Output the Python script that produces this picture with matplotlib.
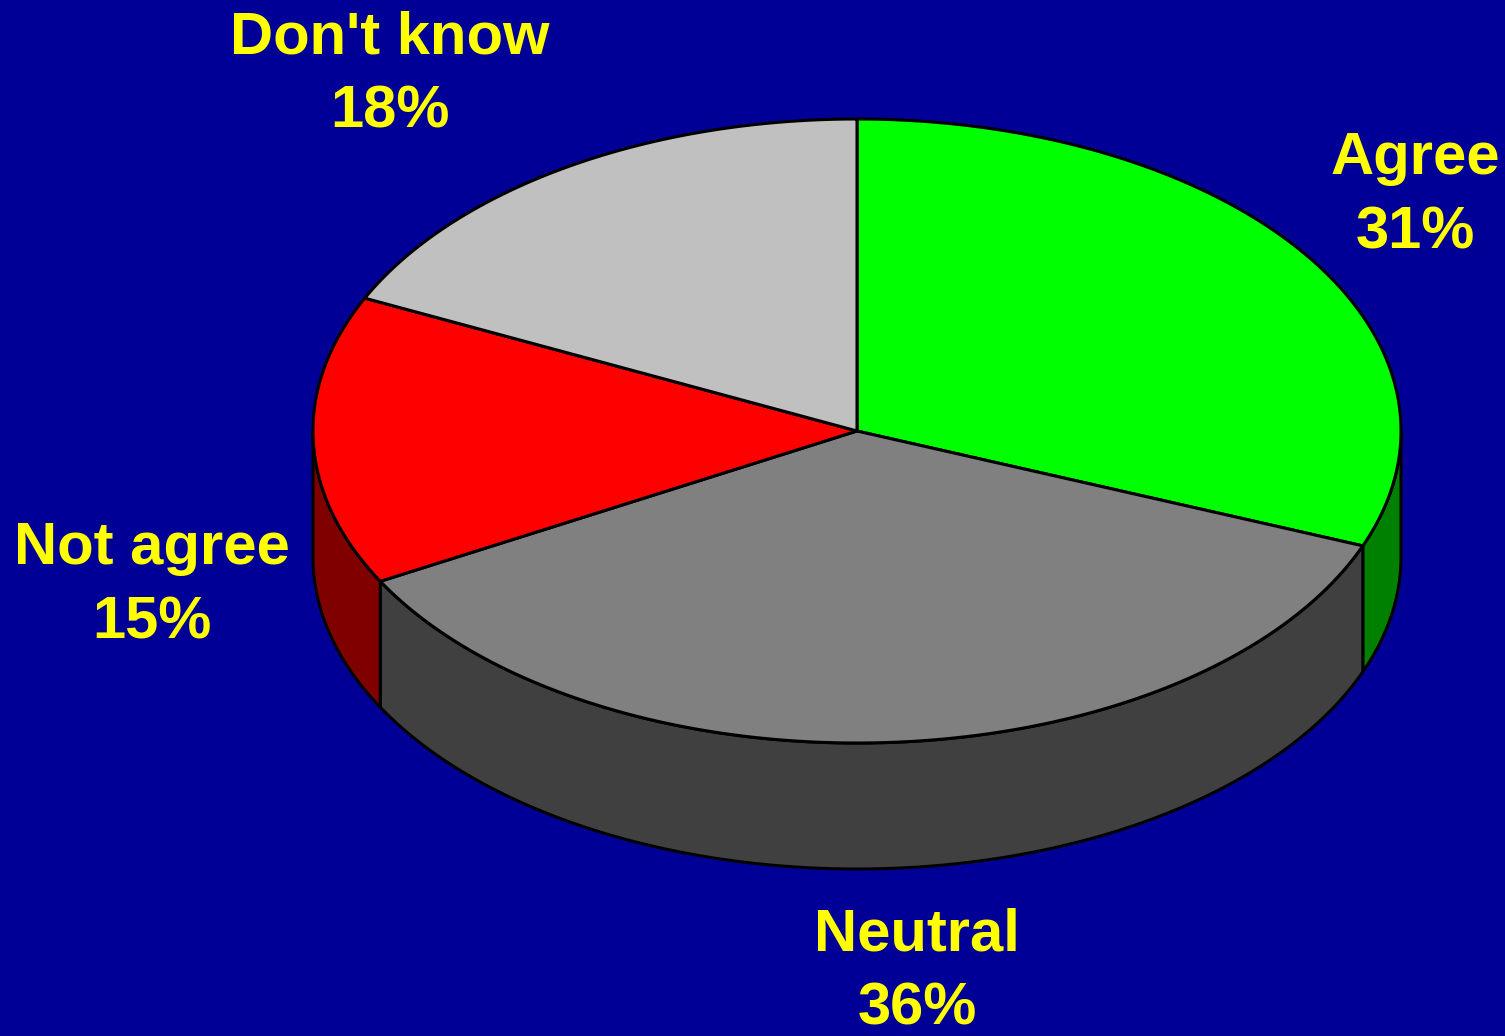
import numpy as np
import matplotlib.pyplot as plt
from matplotlib.patches import Polygon

# Survey answers, clockwise from 12 o'clock
labels = ["Agree", "Neutral", "Not agree", "Don't know"]
shares = [31, 36, 15, 18]
top_colors = ["#00ff00", "#808080", "#ff0000", "#c0c0c0"]
side_colors = ["#008000", "#404040", "#800000", "#606060"]

# pie geometry in pixels
cx, cy = 857, 431
rx, ry = 544, 312
depth = 126

fig = plt.figure(figsize=(15.05, 10.36), dpi=100)
fig.patch.set_facecolor("#000096")
ax = fig.add_axes([0, 0, 1, 1])
ax.set_xlim(0, 1505)
ax.set_ylim(1036, 0)
ax.axis("off")

fracs = np.array(shares) / np.sum(shares)
bounds = 90 - 360 * np.concatenate([[0], np.cumsum(fracs)])


def ell(t, dy=0):
    t = np.radians(t)
    return cx + rx * np.cos(t), cy - ry * np.sin(t) + dy


# side walls (only the front half, angles between -180 and 0)
for i in range(len(shares)):
    a0, a1 = bounds[i], bounds[i + 1]
    lo, hi = max(a1, -180), min(a0, 0)
    if lo >= hi:
        continue
    t = np.linspace(hi, lo, 200)
    x, y = ell(t)
    xb, yb = ell(t[::-1], depth)
    pts = np.column_stack([np.concatenate([x, xb]), np.concatenate([y, yb])])
    ax.add_patch(Polygon(pts, closed=True, fc=side_colors[i], ec="black", lw=2.2, zorder=1))

# top faces
for i in range(len(shares)):
    t = np.linspace(bounds[i], bounds[i + 1], 300)
    x, y = ell(t)
    pts = np.column_stack([np.concatenate([[cx], x]), np.concatenate([[cy], y])])
    ax.add_patch(Polygon(pts, closed=True, fc=top_colors[i], ec="black", lw=2.2, zorder=2))

# labels
label_pos = [(1415, 196), (917, 972), (152, 586), (390, 75)]
for i in range(len(labels)):
    ax.text(label_pos[i][0], label_pos[i][1], f"{labels[i]}\n{shares[i]}%",
            ha="center", va="center", color="#ffff00", fontsize=43,
            fontweight="bold", family="Liberation Sans", linespacing=1.45)

fig.savefig("out.png", dpi=100, facecolor=fig.get_facecolor())
